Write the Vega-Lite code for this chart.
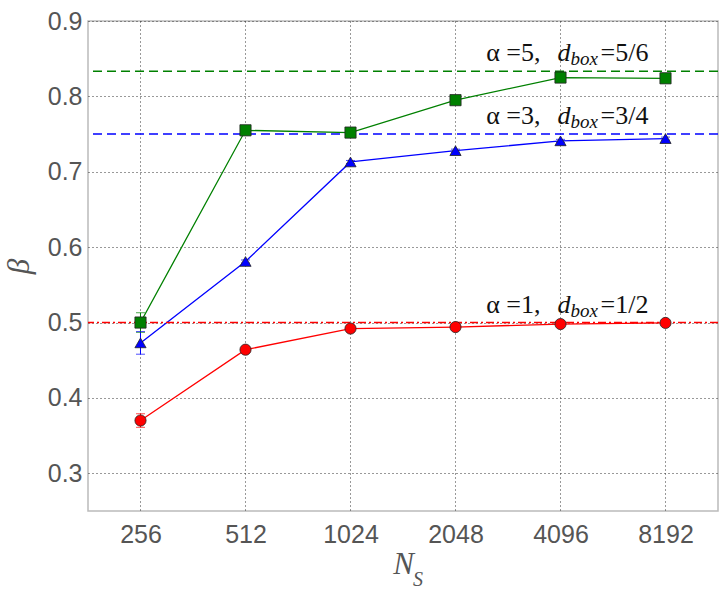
{
  "$schema": "https://vega.github.io/schema/vega-lite/v6.json",
  "width": 630,
  "height": 490,
  "autosize": {"type": "none"},
  "padding": {"left": 88, "top": 21, "right": 9, "bottom": 80},
  "background": "white",
  "config": {
    "view": {"stroke": "#bbbbbb", "strokeWidth": 1.5},
    "axis": {
      "labelFont": "Liberation Sans",
      "labelFontSize": 25,
      "labelColor": "#555555",
      "titleFont": "Liberation Serif",
      "titleFontStyle": "italic",
      "titleFontWeight": "normal",
      "titleFontSize": 31,
      "titleColor": "#555555",
      "ticks": false,
      "domain": false,
      "grid": true,
      "gridDash": [1, 3],
      "gridColor": "#333333",
      "gridWidth": 1
    }
  },
  "datasets": {
    "series": [
      {"N": 256, "beta": 0.370, "lo": 0.361, "hi": 0.379, "s": "a1"},
      {"N": 512, "beta": 0.464, "lo": 0.462, "hi": 0.466, "s": "a1"},
      {"N": 1024, "beta": 0.492, "lo": 0.490, "hi": 0.494, "s": "a1"},
      {"N": 2048, "beta": 0.494, "lo": 0.492, "hi": 0.496, "s": "a1"},
      {"N": 4096, "beta": 0.498, "lo": 0.496, "hi": 0.500, "s": "a1"},
      {"N": 8192, "beta": 0.4995, "lo": 0.4975, "hi": 0.5015, "s": "a1"},
      {"N": 256, "beta": 0.473, "lo": 0.458, "hi": 0.488, "s": "a3"},
      {"N": 512, "beta": 0.581, "lo": 0.579, "hi": 0.583, "s": "a3"},
      {"N": 1024, "beta": 0.713, "lo": 0.711, "hi": 0.715, "s": "a3"},
      {"N": 2048, "beta": 0.728, "lo": 0.726, "hi": 0.730, "s": "a3"},
      {"N": 4096, "beta": 0.741, "lo": 0.739, "hi": 0.743, "s": "a3"},
      {"N": 8192, "beta": 0.744, "lo": 0.742, "hi": 0.746, "s": "a3"},
      {"N": 256, "beta": 0.500, "lo": 0.487, "hi": 0.513, "s": "a5"},
      {"N": 512, "beta": 0.755, "lo": 0.753, "hi": 0.757, "s": "a5"},
      {"N": 1024, "beta": 0.752, "lo": 0.750, "hi": 0.754, "s": "a5"},
      {"N": 2048, "beta": 0.795, "lo": 0.793, "hi": 0.797, "s": "a5"},
      {"N": 4096, "beta": 0.825, "lo": 0.823, "hi": 0.827, "s": "a5"},
      {"N": 8192, "beta": 0.824, "lo": 0.822, "hi": 0.826, "s": "a5"}
    ],
    "notes": [
      {"s": "a1", "beta": 0.5, "left": "α =1,", "d": "d", "sub": "box", "rhs": "=1/2"},
      {"s": "a3", "beta": 0.75, "left": "α =3,", "d": "d", "sub": "box", "rhs": "=3/4"},
      {"s": "a5", "beta": 0.8333, "left": "α =5,", "d": "d", "sub": "box", "rhs": "=5/6"}
    ],
    "sub": [{"t": "S"}]
  },
  "layer": [
    {
      "data": {"name": "series"},
      "mark": {"type": "line", "strokeWidth": 1.3},
      "encoding": {
        "x": {"field": "N", "type": "quantitative", "title": "N",
          "scale": {"type": "log", "base": 2, "domain": [181.02, 11585.24], "nice": false},
          "axis": {"values": [256, 512, 1024, 2048, 4096, 8192], "format": "d", "labelPadding": 11, "titleDx": -10, "titlePadding": 2}},
        "y": {"field": "beta", "type": "quantitative", "title": "β",
          "scale": {"domain": [0.25, 0.9], "nice": false, "zero": false},
          "axis": {"values": [0.3, 0.4, 0.5, 0.6, 0.7, 0.8, 0.9], "format": ".1f", "labelPadding": 6, "titlePadding": 12}},
        "color": {"field": "s", "type": "nominal", "legend": null,
          "scale": {"domain": ["a1", "a3", "a5"], "range": ["#ff0000", "#0000ff", "#008000"]}},
        "detail": {"field": "s"}
      }
    },
    {
      "data": {"name": "notes"},
      "mark": {"type": "rule", "strokeWidth": 1.5},
      "encoding": {
        "y": {"field": "beta", "type": "quantitative", "title": "β"},
        "color": {"field": "s", "type": "nominal", "legend": null},
        "strokeDash": {"field": "s", "type": "nominal", "legend": null,
          "scale": {"domain": ["a1", "a3", "a5"], "range": [[8, 3, 2, 3], [9, 5], [9, 5]]}}
      }
    },
    {
      "data": {"name": "series"},
      "mark": {"type": "rule", "strokeWidth": 1},
      "encoding": {
        "x": {"field": "N", "type": "quantitative", "title": "N"},
        "y": {"field": "lo", "type": "quantitative", "title": "β"},
        "y2": {"field": "hi"},
        "color": {"field": "s", "type": "nominal", "legend": null}
      }
    },
    {
      "data": {"name": "series"},
      "mark": {"type": "tick", "orient": "horizontal", "size": 9, "thickness": 1},
      "encoding": {
        "x": {"field": "N", "type": "quantitative", "title": "N"},
        "y": {"field": "lo", "type": "quantitative", "title": "β"},
        "color": {"field": "s", "type": "nominal", "legend": null}
      }
    },
    {
      "data": {"name": "series"},
      "mark": {"type": "tick", "orient": "horizontal", "size": 9, "thickness": 1},
      "encoding": {
        "x": {"field": "N", "type": "quantitative", "title": "N"},
        "y": {"field": "hi", "type": "quantitative", "title": "β"},
        "color": {"field": "s", "type": "nominal", "legend": null}
      }
    },
    {
      "data": {"name": "series"},
      "mark": {"type": "point", "filled": true, "opacity": 1, "stroke": "#222222", "strokeWidth": 0.8, "size": 125},
      "encoding": {
        "x": {"field": "N", "type": "quantitative", "title": "N"},
        "y": {"field": "beta", "type": "quantitative", "title": "β"},
        "color": {"field": "s", "type": "nominal", "legend": null},
        "shape": {"field": "s", "type": "nominal", "legend": null,
          "scale": {"domain": ["a1", "a3", "a5"], "range": ["circle", "triangle-up", "square"]}}
      }
    },
    {
      "data": {"name": "notes"},
      "mark": {"type": "text", "align": "right", "baseline": "alphabetic", "dx": -20, "dy": -10, "font": "Liberation Serif", "fontSize": 26, "color": "#111111"},
      "encoding": {
        "x": {"datum": 4096},
        "y": {"field": "beta", "type": "quantitative", "title": "β"},
        "text": {"field": "left"}
      }
    },
    {
      "data": {"name": "notes"},
      "mark": {"type": "text", "align": "left", "baseline": "alphabetic", "dx": -3, "dy": -10, "font": "Liberation Serif", "fontStyle": "italic", "fontSize": 26, "color": "#111111"},
      "encoding": {
        "x": {"datum": 4096},
        "y": {"field": "beta", "type": "quantitative", "title": "β"},
        "text": {"field": "d"}
      }
    },
    {
      "data": {"name": "notes"},
      "mark": {"type": "text", "align": "left", "baseline": "alphabetic", "dx": 10, "dy": -6, "font": "Liberation Serif", "fontStyle": "italic", "fontSize": 19, "color": "#111111"},
      "encoding": {
        "x": {"datum": 4096},
        "y": {"field": "beta", "type": "quantitative", "title": "β"},
        "text": {"field": "sub"}
      }
    },
    {
      "data": {"name": "notes"},
      "mark": {"type": "text", "align": "left", "baseline": "alphabetic", "dx": 40, "dy": -10, "font": "Liberation Serif", "fontSize": 26, "color": "#111111"},
      "encoding": {
        "x": {"datum": 4096},
        "y": {"field": "beta", "type": "quantitative", "title": "β"},
        "text": {"field": "rhs"}
      }
    },
    {
      "data": {"name": "sub"},
      "mark": {"type": "text", "align": "left", "baseline": "alphabetic", "dx": 10, "dy": 75, "font": "Liberation Serif", "fontStyle": "italic", "fontSize": 20, "color": "#555555"},
      "encoding": {
        "x": {"datum": 1448.15},
        "y": {"datum": 0.25},
        "text": {"field": "t"}
      }
    }
  ]
}
